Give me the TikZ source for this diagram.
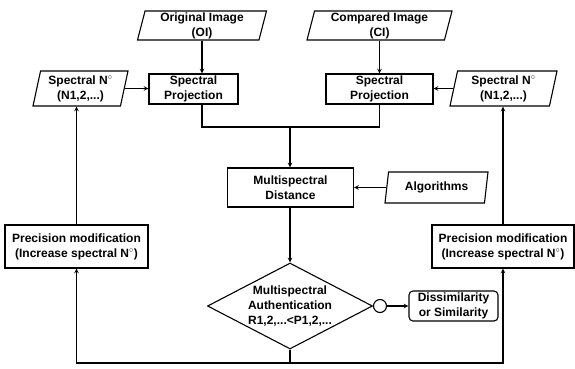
\documentclass[tikz,border=0pt]{standalone}
\usepackage{fontspec}
\setmainfont{Liberation Sans}
\usetikzlibrary{shapes.geometric,positioning}

\tikzset{
  caixa/.style={draw, line width=1.1pt, align=center, inner sep=1pt},
  dado/.style={draw, line width=1.1pt, trapezium, trapezium left angle=75,
    trapezium right angle=105, trapezium stretches body, align=center, inner sep=1pt},
  seta/.style={->, >=stealth, line width=1.1pt},
  linha/.style={line width=1.1pt}
}

\begin{document}
\begin{tikzpicture}[x=1pt, y=1pt, font=\bfseries\fontsize{12}{15}\selectfont]
\useasboundingbox (0,0) rectangle (575,368);

% Entradas
\node[dado, minimum width=129, minimum height=29] (OI) at (202,342.5) {Original Image\\(OI)};
\node[dado, minimum width=145, minimum height=29] (CI) at (379.5,342.5) {Compared Image\\(CI)};
\node[dado, minimum width=95, minimum height=35] (SNL) at (80.5,279.5) {Spectral N$^\circ$\\(N1,2,...)};
\node[dado, minimum width=107, minimum height=35] (SNR) at (503.5,279.5) {Spectral N$^\circ$\\(N1,2,...)};
\node[dado, minimum width=103, minimum height=31] (Alg) at (436.5,180.5) {Algorithms};

% Processos
\node[caixa, minimum width=89, minimum height=30] (ProjL) at (193.5,279) {Spectral\\Projection};
\node[caixa, minimum width=107, minimum height=30] (ProjR) at (379.5,279) {Spectral\\Projection};
\node[caixa, minimum width=126, minimum height=39] (Dist) at (290.5,180.5) {Multispectral\\Distance};
\node[caixa, minimum width=143, minimum height=43] (PrecL) at (76.5,121.5) {Precision modification\\(Increase spectral N$^\circ$)};
\node[caixa, minimum width=142, minimum height=43] (PrecR) at (503,121.5) {Precision modification\\(Increase spectral N$^\circ$)};

% Decisao
\node[draw, line width=1.1pt, diamond, aspect=1.92, inner sep=-4pt, align=center,
  minimum width=165, minimum height=86] (Auth) at (290,62) {Multispectral\\Authentication\\R1,2,...<P1,2,...};
\node[draw, line width=1.1pt, circle, inner sep=0pt, minimum size=13] (circ) at (380,62) {};
\node[caixa, rounded corners=4pt, minimum width=89, minimum height=30] (Diss) at (453.5,62) {Dissimilarity\\or Similarity};

% Ligacoes
\coordinate (juncao) at (290,241);
\coordinate (base) at (290,5);
\draw[seta] (OI.south) -- (OI.south |- ProjL.north);
\draw[seta] (CI.south) -- (CI.south |- ProjR.north);
\draw[seta] (SNL.east) -- (SNL.east -| ProjL.west);
\draw[seta] (SNR.west) -- (SNR.west -| ProjR.east);
\draw[linha] (OI.south |- ProjL.south) |- (juncao);
\draw[linha] (ProjR.south) |- (juncao);
\draw[seta] (juncao) -- (juncao |- Dist.north);
\draw[seta] (Alg.west) -- (Alg.west -| Dist.east);
\draw[seta] (Dist.south -| Auth.north) -- (Auth.north);
\draw[linha] (Auth.east) -- (circ.west);
\draw[seta] (circ.east) -- (Diss.west);
\draw[linha] (Auth.south) -- (base);
\draw[seta] (base) -| (PrecL.south);
\draw[seta] (base) -| (PrecR.south);
\draw[seta] (PrecL.north) -- (PrecL.north |- SNL.south);
\draw[seta] (PrecR.north) -- (PrecR.north |- SNR.south);
\end{tikzpicture}
\end{document}
